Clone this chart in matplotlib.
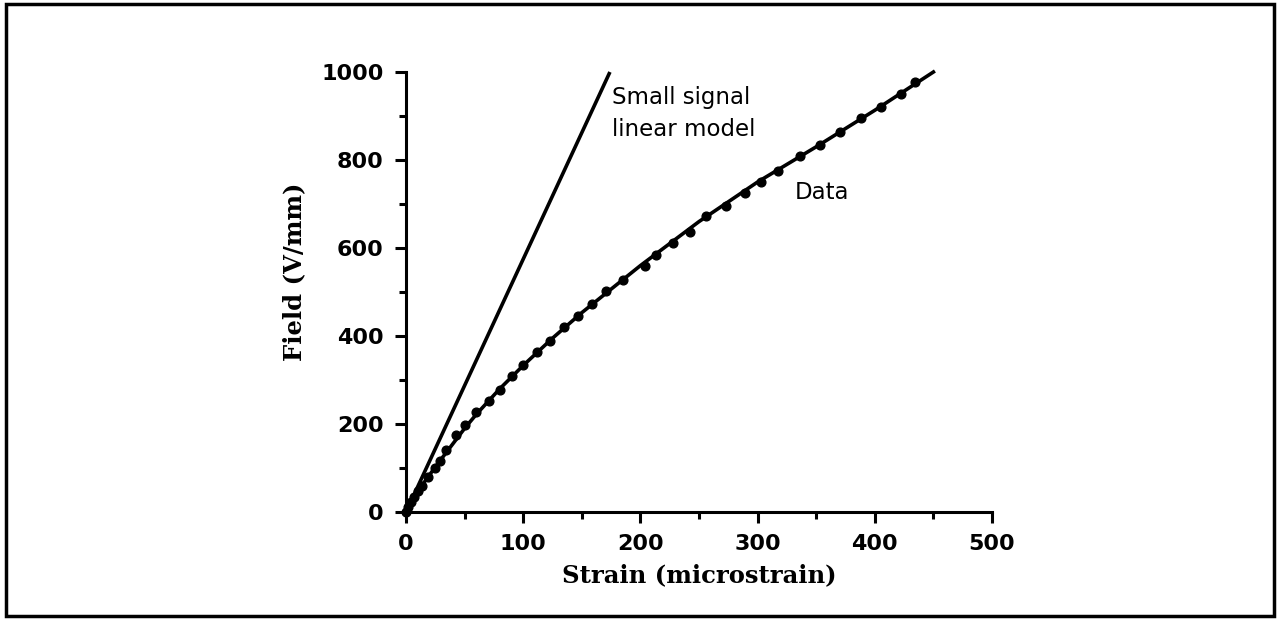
import numpy as np
import matplotlib.pyplot as plt
from matplotlib.patches import Rectangle
from matplotlib.ticker import MultipleLocator

# measured field vs strain
strain = [0, 2, 4, 7, 10, 14, 19, 25, 29, 34, 43, 50, 59.5, 71, 80.5, 90.5,
          100, 112, 123, 135, 147, 159, 171, 185, 204, 213, 228, 242, 256,
          273, 289, 303, 317, 336, 353, 370, 388, 405, 422, 434]
field = [0, 12, 22, 35, 47, 60, 80, 100, 117, 140, 174, 197, 227, 252, 278,
         308, 333, 364, 389, 421, 446, 472, 502, 527, 559, 584, 611, 636, 672,
         695, 725, 751, 776, 808, 834, 864, 896, 921, 949, 977]

# smooth curve through the data
fit_strain = [0, 5, 10, 20, 30, 40, 50, 60, 80, 100, 125, 150, 200, 250,
              300, 350, 400, 450]
fit_field = [0, 25, 47, 84, 120, 155, 190, 222, 280, 333, 395, 453, 560,
             660, 750, 830, 913, 1000]

# small signal linear model
lin_strain = [0, 174]
lin_field = [0, 1000]

W, H = 1279, 619
fig = plt.figure(figsize=(W / 100, H / 100), dpi=100)
ax = fig.add_axes([406 / W, 1 - 512 / H, 586 / W, 440 / H])

ax.plot(lin_strain, lin_field, color='black', lw=2.6, solid_capstyle='butt',
        clip_on=False)
ax.plot(fit_strain, fit_field, color='black', lw=2.6, clip_on=False)
ax.plot(strain, field, 'o', color='black', ms=6.3, clip_on=False)

ax.set_xlim(0, 500)
ax.set_ylim(0, 1000)
for s in ['top', 'right']:
    ax.spines[s].set_visible(False)
for s in ['left', 'bottom']:
    ax.spines[s].set_linewidth(2.2)

ax.xaxis.set_major_locator(MultipleLocator(100))
ax.xaxis.set_minor_locator(MultipleLocator(50))
ax.yaxis.set_major_locator(MultipleLocator(200))
ax.yaxis.set_minor_locator(MultipleLocator(100))
ax.tick_params(which='major', direction='out', length=8, width=2.2,
               labelsize=16, pad=8)
ax.tick_params(which='minor', direction='out', length=5, width=2.2)
for lab in ax.get_xticklabels() + ax.get_yticklabels():
    lab.set_fontweight('bold')
    lab.set_family('DejaVu Sans')

ax.set_xlabel('Strain (microstrain)', family='DejaVu Serif', fontsize=17.5,
              fontweight='bold')
ax.set_ylabel('Field (V/mm)', family='DejaVu Serif', fontsize=17.5,
              fontweight='bold')
ax.xaxis.set_label_coords(0.5, -0.116)
ax.yaxis.set_label_coords(-0.171, 0.545)

ax.text(176, 968, 'Small signal\nlinear model', family='DejaVu Sans',
        fontsize=16.5, va='top', ha='left', linespacing=1.5)
ax.text(332, 752, 'Data', family='DejaVu Sans', fontsize=16.5,
        va='top', ha='left')

# border around the whole figure
fig.patches.append(Rectangle((6 / W, 3 / H), 1268 / W, 612 / H,
                             transform=fig.transFigure, fill=False,
                             edgecolor='black', lw=2.5))

fig.savefig('out.png', dpi=100)
